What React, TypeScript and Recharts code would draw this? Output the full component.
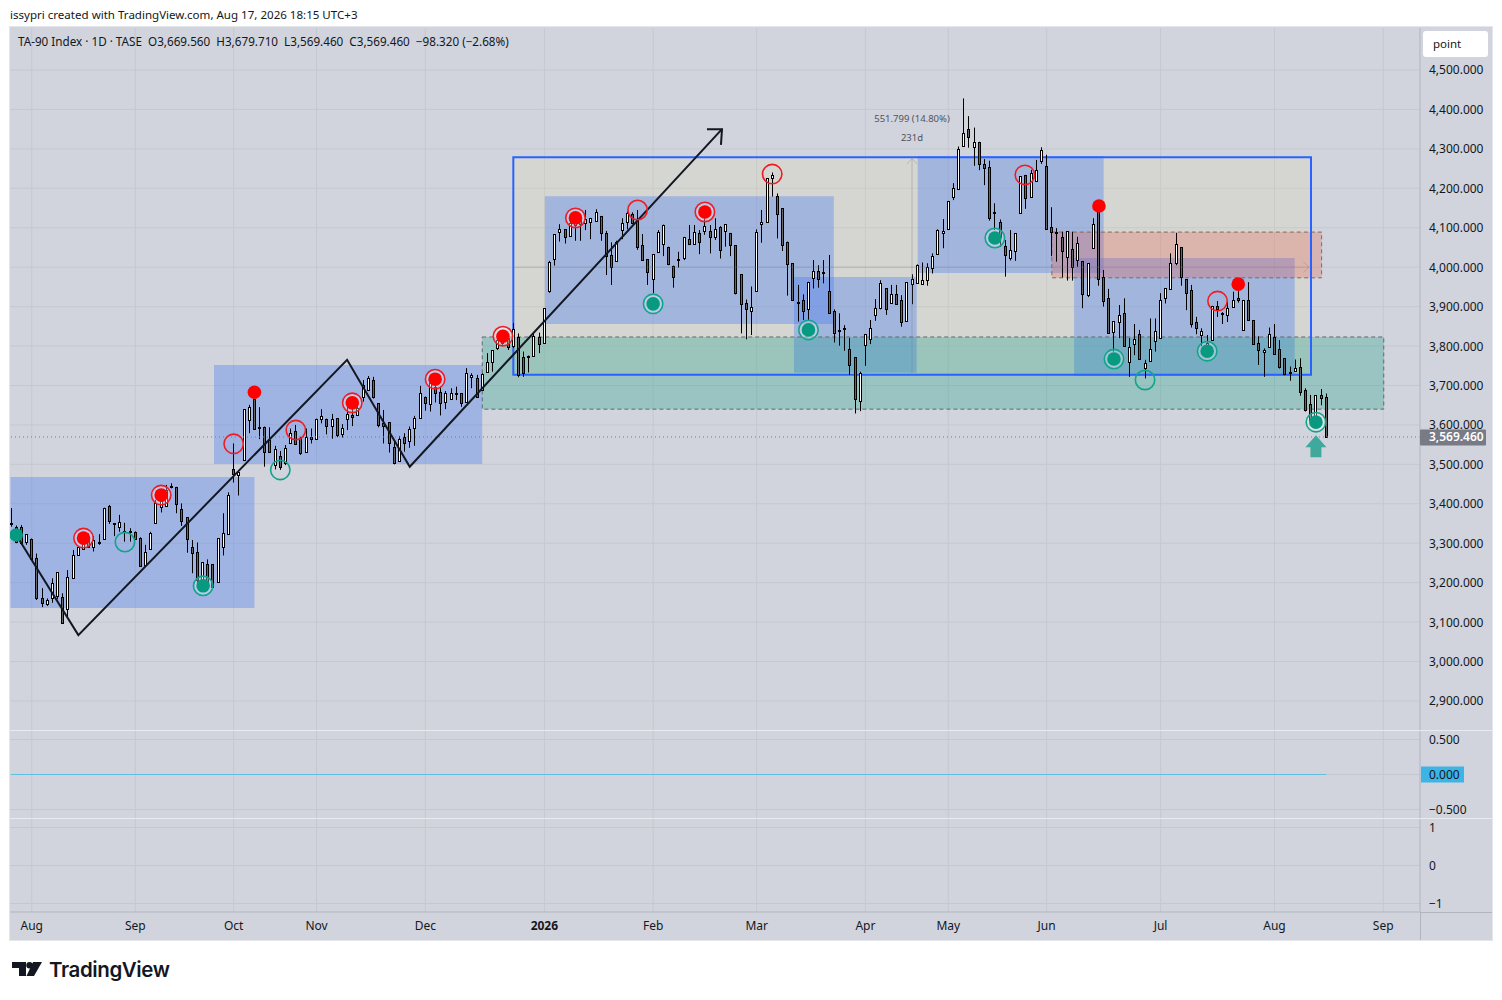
import {
  Bar,
  CartesianGrid,
  ComposedChart,
  Line,
  ReferenceArea,
  ReferenceLine,
  XAxis,
  YAxis,
} from "recharts";

// [open, high, low, close]
const aug25 = [
  [3352,3389,3342,3349],[3342,3345,3300,3304],[3342,3346,3296,3301],[3304,3323,3296,3323],
  [3310,3312,3259,3259],[3262,3274,3156,3160],[3160,3186,3138,3148],[3146,3160,3141,3156],
  [3160,3211,3149,3198],[3165,3226,3158,3226],[3163,3173,3097,3097],[3132,3232,3110,3215],
  [3211,3283,3211,3269],[3269,3293,3269,3291],[3285,3317,3285,3312],[3312,3325,3288,3290],
  [3291,3318,3279,3307],[3300,3323,3296,3302],[3310,3390,3310,3389],[3394,3397,3349,3357],
  [3351,3351,3318,3349],[3342,3372,3329,3354],[3329,3352,3304,3330],[3330,3338,3304,3328],
];
const sep25 = [
  [3329,3330,3308,3310],[3312,3315,3241,3241],[3245,3296,3241,3277],[3285,3329,3285,3325],
  [3352,3410,3352,3401],[3393,3435,3378,3427],[3394,3448,3393,3435],[3443,3452,3439,3445],
  [3442,3443,3376,3399],[3386,3401,3344,3356],[3366,3366,3276,3310],[3290,3308,3224,3274],
  [3277,3302,3190,3207],[3198,3252,3186,3252],[3247,3259,3198,3198],[3247,3247,3188,3188],
  [3201,3312,3201,3312],[3291,3376,3269,3325],[3323,3429,3323,3422],
];
const oct25 = [
  [3487,3553,3454,3475],[3472,3480,3421,3480],[3510,3640,3510,3640],[3612,3651,3579,3646],
  [3667,3683,3589,3589],[3591,3645,3564,3596],[3596,3596,3494,3532],[3562,3594,3532,3532],
  [3498,3547,3487,3538],[3520,3534,3486,3494],[3504,3549,3498,3541],[3553,3591,3552,3579],
  [3585,3600,3549,3551],[3566,3570,3524,3530],[3532,3591,3532,3570],[3570,3591,3553,3564],
];
const nov25 = [
  [3564,3616,3564,3616],[3614,3640,3604,3622],[3616,3616,3576,3598],[3597,3628,3565,3614],
  [3617,3617,3569,3575],[3577,3602,3568,3591],[3616,3655,3587,3628],[3625,3646,3597,3619],
  [3625,3659,3623,3642],[3670,3714,3659,3700],[3689,3724,3689,3718],[3714,3722,3667,3670],
  [3655,3655,3594,3600],[3604,3638,3553,3597],[3607,3607,3530,3553],[3543,3558,3500,3504],
  [3509,3572,3509,3564],[3569,3579,3532,3555],[3558,3596,3542,3589],[3591,3623,3547,3617],
  [3617,3699,3617,3680],
];
const dec25 = [
  [3672,3672,3636,3655],[3652,3724,3634,3706],[3697,3714,3657,3680],[3683,3697,3624,3655],
  [3657,3686,3640,3680],[3667,3693,3665,3680],[3681,3697,3663,3679],[3680,3680,3646,3655],
  [3657,3744,3657,3731],[3721,3731,3693,3727],[3718,3727,3670,3672],[3689,3731,3687,3728],
  [3735,3782,3735,3760],[3759,3790,3735,3790],[3795,3825,3790,3815],[3807,3830,3803,3815],
  [3820,3825,3790,3798],[3800,3858,3795,3842],[3824,3832,3721,3727],[3773,3786,3722,3731],
  [3771,3776,3733,3776],[3775,3832,3773,3825],[3824,3834,3782,3804],
];
const jan26 = [
  [3807,3896,3807,3896],[3940,4016,3935,4014],[4020,4083,4004,4083],[4088,4109,4065,4098],
  [4096,4096,4060,4077],[4079,4120,4079,4111],[4107,4137,4067,4137],[4128,4128,4067,4109],
  [4111,4145,4094,4121],[4114,4125,4071,4125],[4118,4147,4116,4140],[4130,4130,4067,4086],
  [4086,4092,3980,4028],[4030,4063,3955,4000],[4016,4067,4014,4063],[4094,4124,4071,4111],
  [4115,4141,4096,4137],[4134,4139,4109,4111],[4121,4145,4044,4050],[4055,4084,4017,4018],
  [4020,4020,3955,3987],
];
const feb26 = [
  [3969,4033,3934,4033],[4039,4094,4039,4088],[4060,4108,4028,4108],[4052,4052,4005,4007],
  [4004,4004,3948,3974],[4019,4039,3999,4021],[4024,4077,4018,4077],[4071,4107,4056,4059],
  [4060,4107,4059,4090],[4086,4094,4033,4063],[4093,4124,4082,4104],[4093,4107,4035,4076],
  [4076,4124,4069,4098],[4101,4104,4022,4044],[4091,4109,4052,4109],[4087,4087,4028,4056],
  [4055,4055,3931,3934],[3982,3982,3832,3906],[3910,3918,3817,3893],[3888,3951,3828,3900],
];
const mar26 = [
  [3939,4096,3939,4088],[4109,4145,4062,4114],[4115,4225,4115,4225],[4225,4240,4179,4235],
  [4180,4187,4073,4134],[4149,4149,4041,4055],[4063,4065,3928,4007],[4010,4010,3917,3918],
  [3912,3955,3862,3910],[3918,3931,3866,3888],[3893,3963,3866,3962],[3972,4018,3946,3991],
  [3991,4005,3948,3969],[3986,4018,3959,3988],[3940,4031,3883,3885],[3888,3893,3809,3832],
  [3841,3883,3801,3839],[3846,3853,3788,3842],[3792,3820,3727,3752],[3771,3771,3629,3665],
  [3661,3735,3635,3732],
];
const apr26 = [
  [3802,3830,3750,3830],[3817,3866,3805,3847],[3880,3919,3864,3896],[3896,3967,3893,3959],
  [3946,3946,3879,3893],[3908,3955,3907,3933],[3931,3955,3906,3906],[3916,3929,3849,3860],
  [3864,3962,3864,3962],[3957,3982,3906,3970],[3959,4007,3959,4005],[3957,4012,3957,3968],
  [3968,4010,3953,4001],[3999,4035,3984,4028],[4033,4096,4033,4094],[4086,4122,4048,4092],
];
const may26 = [
  [4096,4168,4096,4168],[4177,4213,4170,4202],[4197,4306,4197,4299],[4308,4428,4308,4339],
  [4350,4383,4303,4329],[4306,4354,4257,4317],[4317,4318,4246,4261],[4261,4274,4208,4251],
  [4253,4270,4118,4124],[4140,4162,4094,4138],[4114,4121,4052,4077],[4054,4069,3976,4032],
  [4024,4094,4017,4044],[4042,4086,4016,4086],[4137,4231,4135,4230],[4234,4234,4148,4175],
  [4177,4247,4177,4238],[4219,4272,4219,4247],[4270,4304,4262,4296],
];
const jun26 = [
  [4256,4285,4096,4096],[4101,4152,4028,4088],[4089,4099,4014,4087],[4077,4090,3974,4040],
  [4025,4091,3966,4091],[4045,4090,3966,4000],[4018,4077,4001,4061],[4015,4015,3896,3931],
  [3930,4010,3924,4010],[4048,4124,4048,4109],[4155,4155,3953,3969],[3974,3993,3900,3915],
  [3921,3945,3834,3834],[3836,3863,3786,3863],[3860,3904,3820,3878],[3883,3921,3801,3801],
  [3760,3820,3722,3798],[3804,3856,3777,3817],[3830,3841,3765,3768],[3745,3765,3718,3756],
  [3763,3870,3763,3792],[3814,3870,3786,3837],
];
const jul26 = [
  [3821,3934,3820,3918],[3921,3946,3908,3946],[3944,4035,3944,4010],[4011,4087,4005,4060],
  [4050,4050,3953,3976],[3969,3969,3891,3934],[3942,3955,3847,3855],[3860,3874,3830,3847],
  [3828,3845,3800,3838],[3781,3828,3775,3807],[3816,3902,3816,3902],[3901,3914,3874,3895],
  [3885,3886,3856,3884],[3880,3912,3861,3896],[3898,3938,3898,3918],[3923,3942,3910,3918],
  [3840,3917,3840,3916],[3918,3962,3865,3865],[3865,3865,3803,3804],[3807,3825,3752,3789],
  [3784,3794,3722,3789],[3797,3847,3797,3830],
];
const aug26 = [
  [3822,3856,3781,3781],[3792,3815,3743,3748],[3769,3769,3726,3728],[3734,3748,3712,3732],
  [3736,3766,3736,3745],[3747,3769,3674,3683],[3688,3693,3634,3638],[3652,3676,3600,3612],
  [3621,3675,3610,3675],[3675,3691,3650,3668],[3669.56,3679.71,3569.46,3569.46],
];

const priceTicks = [2900,3000,3100,3200,3300,3400,3500,3600,3700,3800,3900,4000,4100,4200,4300,4400,4500];
const lastClose = 3569.46;
const monthTicks = [4,24,43,59,80,103,124,144,165,181,200,222,244,265];
const monthLabels = ["Aug","Sep","Oct","Nov","Dec","2026","Feb","Mar","Apr","May","Jun","Jul","Aug","Sep"];
const midTicks = [-0.5,0,0.5];
const lowTicks = [-1,0,1];

// drawn rectangles: bar index and price
const bigRange = { x1: 97, x2: 251.05, top: 4279, bottom: 3727 };
const blueBoxes = [
  { x1: -0.1, x2: 47, top: 3468, bottom: 3136 },
  { x1: 39.2, x2: 91, top: 3752, bottom: 3501 },
  { x1: 103.1, x2: 158.9, top: 4180, bottom: 3856 },
  { x1: 151.2, x2: 174.9, top: 3975, bottom: 3732 },
  { x1: 175.1, x2: 211, top: 4282, bottom: 3985 },
  { x1: 205.3, x2: 247.9, top: 4023, bottom: 3724 },
];
const greenZone = { x1: 91, x2: 265.1, top: 3823, bottom: 3640 };
const redZone = { x1: 201, x2: 253.1, top: 4089, bottom: 3973 };

const zigzag = [
  { i: 1, p: 3321 },
  { i: 13, p: 3067 },
  { i: 64.9, p: 3765 },
  { i: 77, p: 3494 },
  { i: 137.3, p: 4350 },
];
const arrowHead = [
  { i: 134.4, p: 4350 },
  { i: 137.3, p: 4350 },
  { i: 137.1, p: 4310 },
];
const measureV = [{ i: 174, p: 3727 }, { i: 174, p: 4275 }];
const measureVHead = [{ i: 173, p: 4262 }, { i: 174, p: 4275 }, { i: 175, p: 4262 }];
const measureH = [{ i: 97, p: 4000 }, { i: 250.7, p: 4000 }];
const measureHHead = [{ i: 249.6, p: 4013 }, { i: 250.7, p: 4000 }, { i: 249.6, p: 3987 }];
const zeroLine = [{ i: 0, v: 0 }, { i: 254, v: 0 }];

const redTargets = [
  { i: 14, p: 3313 },{ i: 29, p: 3422 },{ i: 65.9, p: 3656 },{ i: 81.9, p: 3716 },
  { i: 95, p: 3825 },{ i: 109, p: 4125 },{ i: 134, p: 4140 },
];
const redRings = [
  { i: 43, p: 3552 },{ i: 55, p: 3587 },{ i: 121, p: 4145 },
  { i: 147, p: 4236 },{ i: 195.8, p: 4234 },{ i: 233, p: 3914 },
];
const redDots = [{ i: 47, p: 3683 },{ i: 210.1, p: 4155 },{ i: 237, p: 3957 }];
const greenTargets = [
  { i: 37.1, p: 3192 },{ i: 124, p: 3907 },{ i: 154, p: 3841 },{ i: 190, p: 4074 },
  { i: 213, p: 3767 },{ i: 231, p: 3787 },{ i: 252, p: 3607 },
];
const greenRings = [{ i: 22, p: 3303 },{ i: 52, p: 3486 },{ i: 219, p: 3714 }];
const greenDots = [{ i: 1, p: 3321 }];
const upArrows = [{ i: 252, p: 3541 }];

const rows = [...aug25, ...sep25, ...oct25, ...nov25, ...dec25, ...jan26, ...feb26, ...mar26, ...apr26, ...may26, ...jun26, ...jul26, ...aug26].map(
  ([o, h, l, c], i) => ({ i, o, h, l, c, range: [l, h] }),
);

const FONT = "'Noto Sans', sans-serif";
const BG = "#d1d4dc";
const GRID = "#c5c8d1";
const INK = "#131722";
const RED = "#ff0000";
const RING_RED = "#f01c24";
const GREEN = "#089981";
const RING_GREEN = "#12a48a";
const MEASURE = "rgba(120,123,134,0.35)";
const xDomain: [number, number] = [-0.2, 272.1];
const PLOT_WIDTH = 1482;
const AXIS_WIDTH = 72;
const TICK_X = 1419;

function Candle(props: any) {
  const { x, y, width, height, payload } = props;
  const { o, h, l, c } = payload;
  const unit = height / (h - l);
  const at = (v: number) => y + (h - v) * unit;
  const cx = Math.floor(x + width / 2) + 0.5;
  const top = Math.round(at(Math.max(o, c))) + 0.5;
  const bottom = Math.max(Math.round(at(Math.min(o, c))) + 0.5, top + 1);
  return (
    <g>
      <line x1={cx} x2={cx} y1={y} y2={y + height} stroke="#000" strokeWidth={1} />
      <rect x={cx - 1} y={top} width={2} height={bottom - top} fill={c >= o ? "#ffffff" : "#666"} stroke="#000" strokeWidth={1} />
    </g>
  );
}

function markerDot(color: string, ringColor: string, hasRing: boolean, hasDot: boolean) {
  return (props: any) => (
    <g key={props.index}>
      {hasRing && (
        <circle
          cx={props.cx}
          cy={props.cy}
          r={9.7}
          fill={hasDot ? "rgba(255,255,255,0.3)" : "none"}
          stroke={ringColor}
          strokeWidth={1.6}
        />
      )}
      {hasDot && <circle cx={props.cx} cy={props.cy} r={6.8} fill={color} />}
    </g>
  );
}

function arrowDot(props: any) {
  const { cx, cy, index } = props;
  const points = [
    [cx, cy - 13],
    [cx + 10.5, cy - 1],
    [cx + 5.5, cy - 1],
    [cx + 5.5, cy + 9],
    [cx - 5.5, cy + 9],
    [cx - 5.5, cy - 1],
    [cx - 10.5, cy - 1],
  ]
    .map((pt) => pt.join(","))
    .join(" ");
  return <polygon key={index} points={points} fill="#3fa99d" />;
}

function formatPrice(value: number) {
  return value.toLocaleString("en-US", { minimumFractionDigits: 3, maximumFractionDigits: 3 });
}

function PriceTick(props: any) {
  const { y, payload } = props;
  const isLast = payload.value === lastClose;
  return (
    <g>
      {isLast && <rect x={1410} y={y - 7.5} width={66} height={16} rx={1} fill="#787b86" />}
      <text
        x={TICK_X}
        y={y + 4.5}
        fontFamily={FONT}
        fontSize={12}
        fontWeight={isLast ? 600 : 400}
        fill={isLast ? "#ffffff" : INK}
      >
        {formatPrice(payload.value)}
      </text>
    </g>
  );
}

function MidTick(props: any) {
  const { y, payload } = props;
  const isZero = payload.value === 0;
  const text = payload.value < 0 ? `\u2212${Math.abs(payload.value).toFixed(3)}` : payload.value.toFixed(3);
  return (
    <g>
      {isZero && <rect x={1411} y={y - 8} width={43} height={16} fill="#3db4e6" />}
      <text x={TICK_X} y={y + 4.5} fontFamily={FONT} fontSize={12} fill={INK}>
        {text}
      </text>
    </g>
  );
}

function LowTick(props: any) {
  const { y, payload } = props;
  const text = payload.value < 0 ? `\u2212${Math.abs(payload.value)}` : String(payload.value);
  return (
    <text x={TICK_X} y={y + 4.5} fontFamily={FONT} fontSize={12} fill={INK}>
      {text}
    </text>
  );
}

function MonthTick(props: any) {
  const { x, y, payload } = props;
  const label = monthLabels[monthTicks.indexOf(payload.value)];
  return (
    <text x={x} y={y + 10} textAnchor="middle" fontFamily={FONT} fontSize={12} fontWeight={label === "2026" ? 700 : 400} fill={INK}>
      {label}
    </text>
  );
}

function PricePane() {
  return (
    <ComposedChart width={PLOT_WIDTH} height={702} data={rows} margin={{ top: 0, right: 0, bottom: 0, left: 0 }}>
      <CartesianGrid stroke={GRID} horizontalValues={priceTicks} verticalValues={monthTicks} />
      <XAxis dataKey="i" type="number" domain={xDomain} allowDataOverflow ticks={monthTicks} hide />
      <YAxis
        orientation="right"
        width={AXIS_WIDTH}
        type="number"
        domain={[2826.4, 4606.5]}
        allowDataOverflow
        ticks={[...priceTicks, lastClose]}
        interval={0}
        tick={<PriceTick />}
        tickLine={false}
        axisLine={{ stroke: "#b2b5be" }}
      />
      <ReferenceArea
        x1={bigRange.x1}
        x2={bigRange.x2}
        y1={bigRange.bottom}
        y2={bigRange.top}
        fill="rgba(255,240,120,0.1)"
        fillOpacity={1}
        stroke="none"
      />
      {blueBoxes.map((box, idx) => (
        <ReferenceArea
          key={idx}
          x1={box.x1}
          x2={box.x2}
          y1={box.bottom}
          y2={box.top}
          fill="rgba(70,120,240,0.35)"
          fillOpacity={1}
          stroke="none"
        />
      ))}
      <ReferenceArea
        x1={greenZone.x1}
        x2={greenZone.x2}
        y1={greenZone.bottom}
        y2={greenZone.top}
        fill="rgba(8,153,129,0.28)"
        fillOpacity={1}
        stroke="#5f6b6b"
        strokeDasharray="4 3"
      />
      <ReferenceArea
        x1={redZone.x1}
        x2={redZone.x2}
        y1={redZone.bottom}
        y2={redZone.top}
        fill="rgba(240,80,60,0.25)"
        fillOpacity={1}
        stroke="#7d6a6a"
        strokeDasharray="4 3"
      />
      <ReferenceArea
        x1={bigRange.x1}
        x2={bigRange.x2}
        y1={bigRange.bottom}
        y2={bigRange.top}
        fill="none"
        stroke="#2962ff"
        strokeWidth={2}
      />
      <ReferenceLine y={lastClose} stroke="#787b86" strokeDasharray="1 3" />
      <Line data={measureV} dataKey="p" stroke={MEASURE} dot={false} isAnimationActive={false} />
      <Line data={measureVHead} dataKey="p" stroke={MEASURE} dot={false} isAnimationActive={false} />
      <Line data={measureH} dataKey="p" stroke={MEASURE} dot={false} isAnimationActive={false} />
      <Line data={measureHHead} dataKey="p" stroke={MEASURE} dot={false} isAnimationActive={false} />
      <Bar dataKey="range" barSize={3} shape={<Candle />} isAnimationActive={false} />
      <Line data={zigzag} dataKey="p" stroke={INK} strokeWidth={2} dot={false} isAnimationActive={false} />
      <Line data={arrowHead} dataKey="p" stroke={INK} strokeWidth={2} dot={false} isAnimationActive={false} />
      <Line data={redTargets} dataKey="p" stroke="none" dot={markerDot(RED, RING_RED, true, true)} isAnimationActive={false} />
      <Line data={redRings} dataKey="p" stroke="none" dot={markerDot(RED, RING_RED, true, false)} isAnimationActive={false} />
      <Line data={redDots} dataKey="p" stroke="none" dot={markerDot(RED, RING_RED, false, true)} isAnimationActive={false} />
      <Line data={greenTargets} dataKey="p" stroke="none" dot={markerDot(GREEN, RING_GREEN, true, true)} isAnimationActive={false} />
      <Line data={greenRings} dataKey="p" stroke="none" dot={markerDot(GREEN, RING_GREEN, true, false)} isAnimationActive={false} />
      <Line data={greenDots} dataKey="p" stroke="none" dot={markerDot(GREEN, RING_GREEN, false, true)} isAnimationActive={false} />
      <Line data={upArrows} dataKey="p" stroke="none" dot={arrowDot} isAnimationActive={false} />
    </ComposedChart>
  );
}

function MidPane() {
  return (
    <ComposedChart width={PLOT_WIDTH} height={87} data={zeroLine} margin={{ top: 0, right: 0, bottom: 0, left: 0 }}>
      <CartesianGrid stroke={GRID} horizontalValues={midTicks} verticalValues={monthTicks} />
      <XAxis dataKey="i" type="number" domain={xDomain} allowDataOverflow ticks={monthTicks} hide />
      <YAxis
        orientation="right"
        width={AXIS_WIDTH}
        type="number"
        domain={[-0.621, 0.621]}
        allowDataOverflow
        ticks={midTicks}
        interval={0}
        tick={<MidTick />}
        tickLine={false}
        axisLine={{ stroke: "#b2b5be" }}
      />
      <Line dataKey="v" stroke="#5fbfe2" strokeWidth={1} dot={false} isAnimationActive={false} />
    </ComposedChart>
  );
}

function LowPane() {
  return (
    <ComposedChart width={PLOT_WIDTH} height={121} data={zeroLine} margin={{ top: 0, right: 0, bottom: 0, left: 0 }}>
      <CartesianGrid stroke={GRID} horizontalValues={lowTicks} verticalValues={monthTicks} />
      <XAxis
        dataKey="i"
        type="number"
        domain={xDomain}
        allowDataOverflow
        ticks={monthTicks}
        interval={0}
        height={28}
        tick={<MonthTick />}
        tickLine={false}
        axisLine={{ stroke: "#b2b5be" }}
      />
      <YAxis
        orientation="right"
        width={AXIS_WIDTH}
        type="number"
        domain={[-1.224, 1.224]}
        allowDataOverflow
        ticks={lowTicks}
        interval={0}
        tick={<LowTick />}
        tickLine={false}
        axisLine={{ stroke: "#b2b5be" }}
      />
      <Line dataKey="v" stroke="none" dot={false} isAnimationActive={false} />
    </ComposedChart>
  );
}

function Logo() {
  return (
    <div style={{ position: "absolute", left: 12, top: 956, height: 26, display: "flex", alignItems: "center" }}>
      <svg width={30} height={14} viewBox="0 0 30 14" style={{ display: "block" }}>
        <path d="M0 0h14v14H7V6H0z" fill="#131722" />
        <circle cx={17.5} cy={3.3} r={3.2} fill="#131722" />
        <path d="M21 0h9l-8 14h-7.5z" fill="#131722" />
      </svg>
      <span style={{ marginLeft: 7, fontFamily: "Inter, sans-serif", fontWeight: 600, fontSize: 20.5, letterSpacing: -0.4, color: "#131722" }}>
        TradingView
      </span>
    </div>
  );
}

export default function App() {
  const abs = (left: number, top: number): React.CSSProperties => ({ position: "absolute", left, top });
  return (
    <div style={{ ...abs(0, 0), width: 1502, height: 1000, background: "#ffffff", overflow: "hidden", fontFamily: FONT, color: INK }}>
      <div style={{ ...abs(10, 8), fontSize: 11.55, whiteSpace: "nowrap", lineHeight: "14px" }}>
        issypri created with TradingView.com, Aug 17, 2026 18:15 UTC+3
      </div>
      <div style={{ ...abs(10, 27), width: 1482, height: 913, background: BG, boxShadow: "0 0 0 1px #e4e6ec" }} />
      <div style={abs(10, 28)}>
        <PricePane />
      </div>
      <div style={abs(10, 731)}>
        <MidPane />
      </div>
      <div style={abs(10, 819)}>
        <LowPane />
      </div>
      <div style={{ ...abs(10, 730), width: 1482, height: 1, background: "#e8eaf0" }} />
      <div style={{ ...abs(10, 818), width: 1482, height: 1, background: "#e8eaf0" }} />
      <div style={{ ...abs(1420, 912), width: 72, height: 1, background: "#b2b5be" }} />
      <div style={{ ...abs(1420, 912), width: 1, height: 28, background: "#b2b5be" }} />
      <div style={{ ...abs(18, 34), fontSize: 11.7, whiteSpace: "pre", lineHeight: "14px" }}>
        {"TA-90 Index \u00b7 1D \u00b7 TASE  O3,669.560  H3,679.710  L3,569.460  C3,569.460  \u221298.320 (\u22122.68%)"}
      </div>
      <div style={{ ...abs(1423, 31), width: 65, height: 26, background: "#ffffff", borderRadius: 3, fontSize: 11.5, lineHeight: "26px", textIndent: 10 }}>
        point
      </div>
      <div style={{ ...abs(862, 113), width: 100, textAlign: "center", fontSize: 9.5, lineHeight: "12px", color: "#50535e" }}>
        551.799 (14.80%)
      </div>
      <div style={{ ...abs(862, 132), width: 100, textAlign: "center", fontSize: 9.5, lineHeight: "12px", color: "#50535e" }}>
        231d
      </div>
      <Logo />
    </div>
  );
}
